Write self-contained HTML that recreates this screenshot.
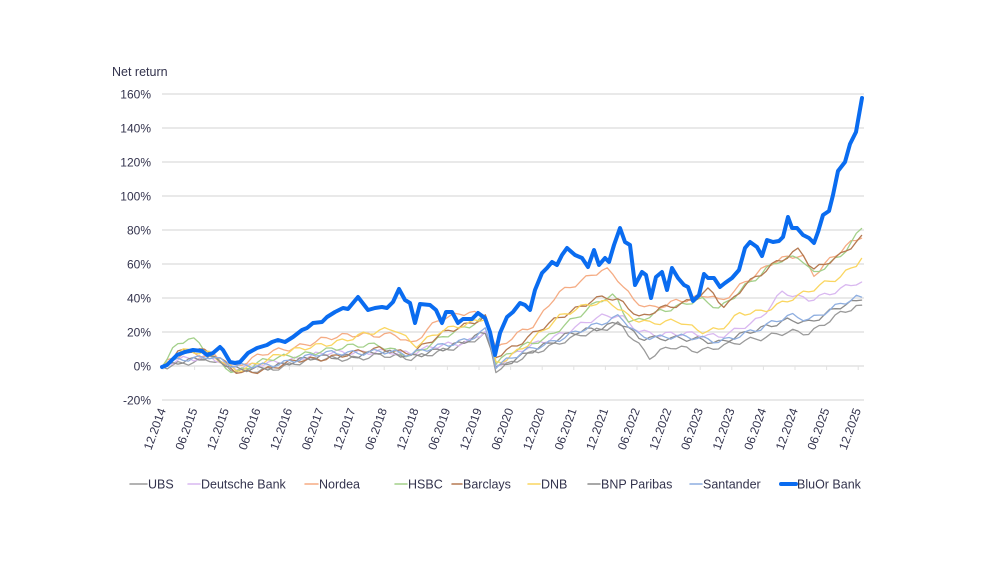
<!DOCTYPE html>
<html><head><meta charset="utf-8"><style>
html,body{margin:0;padding:0;background:#fff;}
svg{display:block;font-family:"Liberation Sans",sans-serif;}
</style></head><body>
<svg id="c" width="989" height="572" xmlns="http://www.w3.org/2000/svg">
<text x="112" y="76" font-size="12.5" fill="#33334d">Net return</text>
<g id="grid"></g>
<g id="xl"></g>
<g id="series" fill="none" stroke-linejoin="round" stroke-linecap="round"></g>
<g id="leg" font-size="12.5" fill="#33334d"></g>
</svg>
<script>
const NS="http://www.w3.org/2000/svg";
function el(t,a,p,txt){const e=document.createElementNS(NS,t);for(const k in a)e.setAttribute(k,a[k]);if(txt!=null)e.textContent=txt;p.appendChild(e);return e;}
const g=document.getElementById('grid');
for(let i=0;i<=9;i++){const v=160-i*20;const y=94+i*34;
el('line',{x1:162,x2:864,y1:y,y2:y,stroke:'#e2e2e2','stroke-width':1.5},g);
el('text',{x:151,y:y+4.5,'text-anchor':'end','font-size':12,fill:'#33334d'},g,v+'%');}
const xl=document.getElementById('xl');
for(let i=0;i<23;i++){const yr=2014+Math.floor((i+1)/2);const m=i%2==0?'12':'06';
const x=160+i*31.6;
el('line',{x1:x+3,x2:x+3,y1:366,y2:370,stroke:'#e2e2e2'},xl);
el('text',{x:0,y:0,'text-anchor':'end','font-size':12,fill:'#33334d',transform:`translate(${x+6},410) rotate(-70)`},xl,m+'.'+yr);}
const S={
UBS:['#9a9a9a',[[162,367],[180,362],[210,360],[235,372],[270,368],[320,360],[380,355],[410,360],[440,350],[470,342],[487,335],[496,372],[530,352],[570,340],[600,330],[620,322],[635,340],[650,358],[670,348],[700,350],[720,345],[760,340],[790,330],[810,332],[840,315],[862,305]]],
DB:['#d9b8f0',[[162,367],[180,358],[210,356],[235,370],[270,362],[320,355],[380,350],[410,355],[440,345],[470,340],[487,330],[496,368],[530,345],[570,330],[600,318],[620,315],[640,330],[660,335],[690,335],[720,335],[760,320],[783,292],[795,296],[810,298],[840,290],[862,282]]],
Nordea:['#f5ac84',[[162,367],[185,352],[215,355],[235,368],[270,352],[320,340],[360,335],[395,333],[412,345],[440,320],[470,310],[487,318],[496,350],[510,340],[535,325],[557,292],[587,278],[605,270],[620,282],[633,300],[653,307],[673,302],[693,300],[710,295],[720,302],[743,282],[773,263],[802,255],[813,275],[830,258],[847,245],[862,238]]],
HSBC:['#a3d08a',[[162,367],[175,348],[190,338],[200,345],[215,358],[235,372],[270,360],[320,350],[380,345],[412,355],[440,340],[470,325],[487,315],[496,362],[515,350],[545,340],[570,320],[600,300],[615,297],[630,325],[660,310],[700,300],[720,310],[745,285],[775,262],[800,258],[813,275],[840,255],[862,228]]],
Barclays:['#b57a52',[[162,367],[180,352],[210,352],[240,372],[270,370],[300,360],[340,355],[380,350],[410,352],[440,335],[470,325],[487,315],[496,355],[525,340],[560,318],[590,300],[605,295],[625,305],[640,320],[660,308],[690,300],[710,290],[725,310],[745,285],[773,263],[800,250],[813,272],[840,255],[862,235]]],
DNB:['#fad661',[[162,367],[180,350],[210,355],[235,370],[270,358],[320,345],[360,335],[395,330],[415,345],[440,330],[470,325],[487,318],[496,364],[525,345],[560,318],[590,303],[610,300],[630,318],[650,325],[680,320],[700,330],[720,330],[740,315],[760,312],[790,298],[813,290],[840,278],[862,258]]],
BNP:['#8c8c8c',[[162,367],[180,360],[210,358],[235,370],[270,366],[320,358],[380,352],[410,358],[440,348],[470,340],[487,333],[496,370],[530,350],[570,335],[600,328],[620,320],[640,338],[660,340],[700,338],[720,342],[760,330],[790,318],[810,322],[840,308],[862,300]]],
San:['#8eaee0',[[162,367],[180,358],[210,356],[235,368],[270,364],[320,355],[380,350],[410,356],[440,345],[470,338],[487,330],[496,368],[530,348],[570,335],[600,325],[620,315],[640,335],[660,338],[700,338],[720,340],[760,330],[790,315],[810,318],[840,305],[862,297]]]
};
function interp(pts,x){for(let i=1;i<pts.length;i++){if(x<=pts[i][0]){const a=pts[i-1],b=pts[i];return a[1]+(b[1]-a[1])*(x-a[0])/(b[0]-a[0]);}}return pts[pts.length-1][1];}
const sg=document.getElementById('series');let k=0;
for(const n in S){const [c,pts]=S[n];k++;let d='';
for(let x=162;x<=862.1;x+=5.3){let y=interp(pts,x);if(x>165&&x<858)y+=2.5*Math.sin(x*0.9+k*1.7)+1.5*Math.sin(x*2.3+k);d+=(d?'L':'M')+x.toFixed(1)+','+y.toFixed(1);}
el('path',{d,stroke:c,'stroke-width':1.3},sg);}
const B=[[162,367],[167,365],[177,355],[185,352],[193,350],[202,351],[207,355],[213,353],[220,347],[223,350],[230,362],[235,363],[240,362],[248,353],[257,348],[267,345],[272,342],[278,340],[285,342],[293,337],[302,330],[307,328],[313,323],[322,322],[327,317],[335,312],[343,308],[348,309],[358,297],[368,310],[375,308],[382,307],[387,308],[393,302],[399,289],[405,300],[410,303],[415,323],[420,304],[430,305],[436,310],[442,323],[446,312],[452,312],[458,323],[463,319],[472,319],[478,313],[485,318],[490,332],[495,355],[500,333],[507,317],[513,312],[520,303],[525,305],[530,310],[535,290],[542,273],[547,268],[552,262],[557,265],[562,255],[567,248],[575,255],[582,258],[588,267],[594,250],[599,265],[605,258],[609,262],[614,245],[620,228],[625,242],[630,245],[635,285],[642,272],[646,275],[651,298],[656,277],[662,272],[667,290],[672,268],[678,278],[684,285],[688,287],[693,301],[699,295],[704,274],[708,278],[714,278],[720,287],[725,283],[732,278],[739,270],[745,248],[750,242],[757,247],[762,256],[767,240],[773,242],[779,241],[783,237],[788,217],[792,228],[797,228],[803,235],[809,238],[814,243],[818,232],[823,215],[829,211],[833,195],[838,171],[845,162],[850,144],[856,132],[862,98]];
el('path',{d:'M'+B.map(p=>p.join(',')).join('L'),stroke:'#0a6cf0','stroke-width':4},sg);
const L=document.getElementById('leg');
const items=[[130,147,'UBS','#9a9a9a',1.5],[188,200,'Deutsche Bank','#d9b8f0',1.5],[305,318,'Nordea','#f5ac84',1.5],[395,407,'HSBC','#a3d08a',1.5],[452,462,'Barclays','#b57a52',1.5],[528,540,'DNB','#fad661',1.5],[588,600,'BNP Paribas','#8c8c8c',1.5],[690,702,'Santander','#8eaee0',1.5],[781,796,'BluOr Bank','#0a6cf0',4]];
for(const [a,b,t,c,w] of items){el('line',{x1:a,x2:b,y1:484,y2:484,stroke:c,'stroke-width':w,'stroke-linecap':'round'},L);el('text',{x:b+1,y:488.5},L,t);}
</script>
</body></html>
